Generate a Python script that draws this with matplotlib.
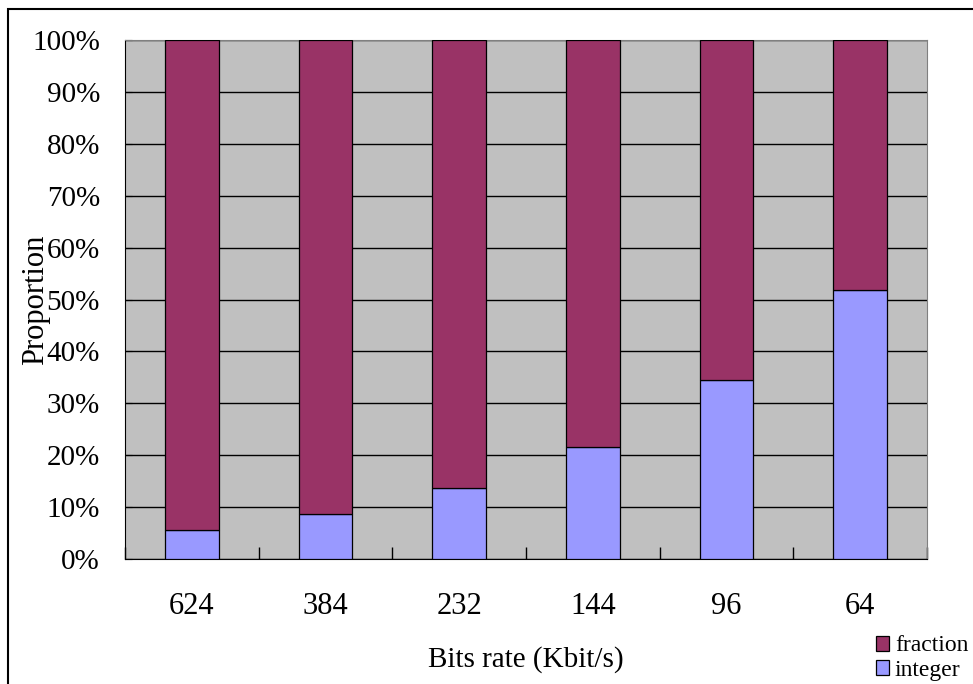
import matplotlib
matplotlib.use("Agg")
import matplotlib.pyplot as plt
from matplotlib.patches import Rectangle
from matplotlib.ticker import PercentFormatter, FixedLocator

plt.rcParams.update({
    "font.family": "Liberation Serif",
    "font.size": 20,
})

rates = ["624", "384", "232", "144", "96", "64"]
integer = [5.5, 8.6, 13.7, 21.6, 34.5, 51.8]
fraction = [100 - v for v in integer]

INTEGER, FRACTION, PANEL = "#9999ff", "#993366", "#c0c0c0"

W, H = 973, 684
fig = plt.figure(figsize=(W / 100, H / 100), dpi=100)

# frame around the whole figure, running off the right and bottom edges
fig.patches.append(Rectangle((8 / W, -0.2), 1.5, 1 - 9 / H + 0.2, transform=fig.transFigure,
                             fill=False, edgecolor="black", lw=1.5))

ax = fig.add_axes([125 / W, (H - 559) / H, (927 - 125) / W, (559 - 40) / H])
ax.set_facecolor(PANEL)
x = range(len(rates))
ax.bar(x, integer, 0.4, color=INTEGER, edgecolor="black", lw=0.9, label="integer", zorder=3)
ax.bar(x, fraction, 0.4, bottom=integer, color=FRACTION, edgecolor="black", lw=0.9,
       label="fraction", zorder=3)

ax.set_xlim(-0.5, len(rates) - 0.5)
ax.set_ylim(0, 100)
ax.set_yticks(range(0, 101, 10))
ax.yaxis.set_major_formatter(PercentFormatter(decimals=0))
ax.grid(axis="y", color="black", lw=1.0, zorder=1)
ax.set_xticks(list(x))
ax.set_xticklabels(rates)
ax.xaxis.set_minor_locator(FixedLocator([i + 0.5 for i in range(-1, len(rates))]))
ax.tick_params(axis="x", which="major", length=0, pad=24, labelsize=22)
ax.tick_params(axis="x", which="minor", direction="in", length=9, width=1)
ax.tick_params(axis="y", direction="in", length=5, labelsize=21, pad=18)

for side in ("top", "right"):
    ax.spines[side].set_color("#808080")
for side in ("left", "bottom"):
    ax.spines[side].set_color("black")

ax.set_ylabel("Proportion", fontsize=22)
ax.yaxis.set_label_coords(-0.093, 0.5)
ax.set_xlabel("Bits rate (Kbit/s)", fontsize=21)
ax.xaxis.set_label_coords(0.5, -0.168)

handles, labels = ax.get_legend_handles_labels()
fig.legend(handles[::-1], labels[::-1], loc="lower left", bbox_to_anchor=(876 / W, 3 / H),
           frameon=False, fontsize=17, handlelength=0.55, handleheight=0.6,
           handletextpad=0.25, labelspacing=0.15, borderaxespad=0, borderpad=0)

fig.savefig("out.png", dpi=100)
